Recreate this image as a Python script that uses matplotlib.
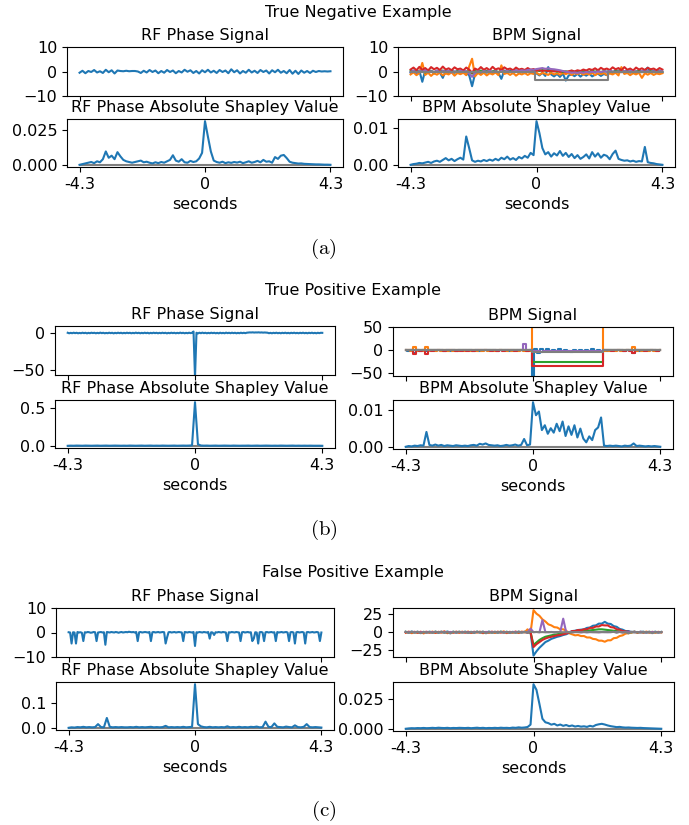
import matplotlib.pyplot as plt
import numpy as np

# Schriftgrössen wie im Original (Abbildung ist leicht skaliert)
plt.rcParams['font.size'] = 11.5
plt.rcParams['axes.titlesize'] = 11.5
plt.rcParams['mathtext.fontset'] = 'cm'

# ---------------------------------------------------------------
# Daten: die meisten Reihen haben 87 Werte, Zeitraster -4.3 .. 4.3 s (0.1 s)
# eine Zeile = 1 s, Index 43 = 0 s
# RF-Signale (b) und (c) mit 173 Werten (0.05 s), eine Zeile = 0.5 s
# ---------------------------------------------------------------
tick_pos = [-4.3, 0, 4.3]
tick_lab = ['-4.3', '0', '4.3']

# ---------- (a) True Negative ----------
rf_sig_a = [-0.5, 0.3, -0.7, 0.2, -0.2, 0.6, -0.4, 0.1, -0.6, 0.7,
            -0.3, 0.5, -0.8, 0.4, 0.2, 0.1, 0.3, 0.1, 0.2, 0.2,
            0.0, -0.6, 0.3, -0.4, 0.6, -0.2, 0.4, -0.7, 0.2, -0.5,
            0.6, -0.2, 0.4, -0.7, 0.2, -0.4, 0.7, -0.1, 0.5, -0.6,
            0.2, -0.8, 0.5, -0.3, 0.7, -0.4, 0.3, -0.6, 0.6, -0.2,
            0.4, -0.7, 0.9, -0.3, 0.5, -0.8, 0.2, -0.5, 0.7, -0.4,
            0.3, -0.6, 0.6, -0.2, 0.4, -0.8, 0.5, -0.3, 0.7, -0.5,
            0.2, -0.7, 0.6, -0.9, 0.3, -1.0, 0.4, -0.5, 0.2, -0.6,
            0.3, -0.2, 0.2, 0.0, 0.1, 0.0, 0.1]

rf_shap_a = [0.0, 0.0005, 0.001, 0.0015, 0.002, 0.0012, 0.0025, 0.0018, 0.004, 0.0095,
             0.005, 0.0065, 0.004, 0.009, 0.006, 0.0035, 0.0025, 0.002, 0.0015, 0.002,
             0.0025, 0.003, 0.0018, 0.0022, 0.0015, 0.001, 0.0018, 0.0012, 0.002, 0.0015,
             0.0025, 0.0035, 0.0068, 0.003, 0.0022, 0.004, 0.0018, 0.0015, 0.0028, 0.002,
             0.0025, 0.0045, 0.0085, 0.031, 0.02, 0.0095, 0.003, 0.002, 0.0015, 0.0022,
             0.0012, 0.0018, 0.0014, 0.002, 0.0016, 0.0022, 0.0012, 0.0018, 0.0025, 0.0015,
             0.002, 0.0028, 0.0018, 0.0035, 0.0022, 0.0025, 0.0015, 0.0055, 0.0042, 0.0065,
             0.007, 0.0048, 0.0022, 0.0015, 0.0012, 0.0009, 0.001, 0.0007, 0.0006, 0.0005,
             0.0004, 0.0003, 0.0003, 0.0002, 0.0001, 0.0001, 0.0]

bpm_blue_a = [-0.5, 0.4, -0.8, 0.3, -4.2, 0.5, -0.6, 0.2, -0.9, 0.4,
              -0.4, -2.6, 0.3, -0.7, 0.5, -0.5, 0.2, -0.8, 0.4, -0.6,
              -1.5, -6.0, -1.0, 0.3, -0.7, 0.4, -0.5, 0.2, -0.8, 0.3,
              -0.6, -3.0, 0.4, -0.5, 0.3, -0.8, 0.5, -0.4, 0.2, -0.7,
              0.3, -0.6, 0.5, -0.8, -1.6, -0.5, -1.8, 1.8, -1.2, -2.0,
              -1.0, -2.2, -0.8, -3.7, -1.6, -1.2, -1.9, -0.9, -2.1, -1.1,
              -1.7, -0.8, -2.0, -1.3, -0.9, -1.8, -1.0, -1.5, 0.4, -0.6,
              0.5, -0.4, 0.3, -0.7, 0.6, -0.5, 0.2, -0.8, 0.4, -0.3,
              0.5, 1.6, -0.6, 0.3, -0.5, 0.4, -0.4]
bpm_orange_a = [-1.2, -0.3, -1.5, -0.6, 3.5, -1.4, -0.5, -1.8, -0.7, -1.3,
                -0.4, -1.6, -0.8, -1.2, -0.3, -1.7, -0.6, -1.1, -0.5, -1.5,
                2.0, 5.2, -2.0, -0.6, -1.4, -0.5, -1.6, -0.7, -1.2, -0.4,
                -1.5, 2.5, -1.0, -0.6, -1.4, -0.5, -1.7, -0.8, -1.2, -0.6,
                -1.4, -0.7, -1.0, -0.5, -1.3, -0.6, -0.9, -1.4, -0.5, -1.2,
                -0.7, -1.3, -0.6, -1.1, -0.5, -1.4, -0.7, -1.0, -0.6, -1.3,
                -0.8, -1.2, -0.5, -1.5, -0.7, -1.1, -0.6, -1.4, -0.8, -1.2,
                -0.5, -1.6, 1.8, -1.0, -0.6, -1.5, -0.7, -1.2, -0.5, -2.6,
                -0.7, -1.3, -0.6, -1.4, -0.8, -1.1, -0.7]
bpm_green_a = [0.3, -0.2, 0.4, -0.1, 0.2, -0.4, 0.1, 0.3, -0.3, 0.2,
               -0.1, 0.4, -0.2, 0.1, 0.3, -0.3, 0.2, -0.1, 0.4, -0.2,
               0.1, -0.9, 0.2, -0.3, 0.4, -0.1, 0.3, -0.2, 0.1, 0.3,
               -0.3, 0.2, -0.1, 0.4, -0.2, 0.3, -0.1, 0.2, -0.3, 0.4,
               0.1, -0.2, 0.3, 0.5, 0.2, 0.6, 0.3, 0.4, 0.1, 0.3,
               -0.1, 0.2, -0.3, 0.1, -0.2, 0.3, -0.1, 0.2, -0.3, 0.1,
               0.2, -0.2, 0.4, -0.1, 0.3, -0.3, 0.2, -0.1, 0.3, -0.2,
               0.1, 0.4, -0.2, 0.2, -0.1, 0.3, -0.3, 0.1, 0.2, -0.2,
               0.3, -0.1, 0.2, -0.3, 0.1, 0.2, -0.1]
bpm_red_a = [0.8, 1.6, 0.5, 1.9, 0.7, 1.4, 0.4, 1.8, 0.9, 1.5,
             0.6, 2.0, 0.8, 1.3, 0.5, 1.7, 0.9, 1.2, 0.4, 1.6,
             0.8, -0.5, 1.2, 0.6, 1.8, 0.7, 1.4, 0.5, 1.9, 0.8,
             1.3, 0.6, 1.7, 0.9, 1.2, 0.5, 1.6, 0.8, 1.1, 0.6,
             1.4, 0.7, 1.0, 0.3, 0.6, 0.2, 0.5, 0.1, 0.4, 0.0,
             0.3, -0.2, 0.2, -0.3, 0.1, 0.4, 0.0, 0.5, 0.2, 0.8,
             0.4, 1.0, 0.6, 1.3, 0.5, 1.5, 0.8, 1.2, 0.6, 1.7,
             0.9, 1.4, 0.5, 1.8, 0.7, 1.2, 0.4, 1.6, 0.8, 1.3,
             0.6, 1.5, 0.9, 1.2, 0.5, 1.4, 0.8]
bpm_purple_a = [-0.2, 0.3, -0.4, 0.2, -0.1, 0.4, -0.3, 0.1, -0.2, 0.3,
                -0.3, 0.2, -0.1, 0.3, -0.4, 0.1, -0.2, 0.3, -0.1, 0.2,
                -0.8, -2.2, -0.6, 0.1, -0.3, 0.2, -0.1, 0.3, -0.2, 0.1,
                -0.3, 0.2, -0.1, 0.3, -0.2, 0.1, 0.4, 0.2, 0.5, 0.3,
                0.6, 0.8, 0.7, 1.0, 1.2, 1.4, 1.1, 1.3, 1.0, 0.9,
                0.7, 0.5, 0.2, -0.1, -0.3, -0.5, -0.4, -0.6, -0.3, -0.5,
                -0.2, -0.4, -0.1, -0.3, 0.0, -0.2, 0.1, -0.1, 0.2, 0.0,
                -0.2, 0.1, -0.3, 0.2, -0.1, 0.3, -0.2, 0.1, -0.3, 0.2,
                -0.1, 0.2, -0.2, 0.1, -0.3, 0.2, 0.0]
bpm_gray_a = [0.0] * 43 + [-3.6] * 25 + [0.0] * 19

bpm_shap_a = [0.0, 0.0002, 0.0003, 0.0005, 0.0004, 0.0006, 0.0008, 0.0005, 0.0009, 0.0011,
              0.0008, 0.0013, 0.0018, 0.0012, 0.0016, 0.001, 0.0015, 0.0019, 0.0014, 0.0076,
              0.0045, 0.0012, 0.0008, 0.0011, 0.0009, 0.0013, 0.001, 0.0014, 0.0011, 0.0016,
              0.0012, 0.0019, 0.0015, 0.0022, 0.0014, 0.0018, 0.0013, 0.0021, 0.0017, 0.0024,
              0.0019, 0.0032, 0.0026, 0.0117, 0.0085, 0.0045, 0.0028, 0.0034, 0.0022, 0.0031,
              0.0025, 0.0037, 0.0024, 0.0032, 0.0021, 0.0029, 0.0018, 0.0026, 0.0016, 0.0021,
              0.0028, 0.0017, 0.0034, 0.0022, 0.0031, 0.0019, 0.0027, 0.0024, 0.0015, 0.0029,
              0.0038, 0.0016, 0.0013, 0.0011, 0.0012, 0.0009, 0.0011, 0.0008, 0.001, 0.0009,
              0.0048, 0.0007, 0.0005, 0.0004, 0.0002, 0.0001, 0.0]

# ---------- (b) True Positive ----------
# 173 Werte, eine Zeile = 0.5 s, Index 86 = 0 s
rf_sig_b = [0.3, -0.4, 0.2, -0.3, 0.4, -0.2, 0.3, -0.4, 0.1, -0.3,
            0.4, -0.2, 0.3, -0.5, 0.2, -0.3, 0.4, -0.1, 0.3, -0.4,
            0.2, -0.3, 0.5, -0.2, 0.3, -0.4, 0.1, -0.3, 0.4, -0.2,
            0.3, -0.5, 0.2, -0.3, 0.4, -0.2, 0.3, -0.4, 0.2, -0.3,
            0.4, -0.2, 0.3, -0.4, 0.2, -0.3, 0.5, -0.2, 0.3, -0.4,
            0.2, -0.3, 0.4, -0.2, 0.3, -0.5, 0.2, -0.3, 0.4, -0.2,
            0.3, -0.4, 0.2, -0.3, 0.4, -0.2, 0.3, -0.5, 0.2, -0.3,
            0.4, -0.2, 0.3, -0.4, 0.2, -0.3, 0.5, -0.2, 0.3, -0.4,
            0.2, -0.3, 0.4, -0.2, 0.3, 2.0, -60.0, 0.3, -0.6, 0.4,
            -0.3, 0.5, -0.2, 0.3, -0.4, 0.2, -0.3, 0.4, -0.2, 0.3,
            -0.4, 0.2, -0.5, 0.4, -0.3, 0.2, -0.4, 0.5, -0.2, 0.3,
            -0.3, 0.4, -0.2, 0.3, -0.4, 0.2, -0.3, 0.4, -0.2, 0.3,
            -0.2, 0.4, 0.6, 0.8, 0.7, 0.9, 0.6, 0.8, 0.7, 0.9,
            0.6, 0.8, 0.5, 0.7, 0.6, 0.4, -0.3, 0.2, -0.4, 0.3,
            -0.2, 0.4, -0.3, 0.2, -0.4, 0.3, -0.2, 0.4, -0.3, 0.2,
            -0.4, 0.3, -0.2, 0.4, -0.3, 0.2, -0.4, 0.3, -0.2, 0.4,
            -0.3, 0.2, -0.4, 0.3, -0.2, 0.4, -0.3, 0.2, -0.4, 0.3,
            -0.2, 0.3, 0.2]

rf_shap_b = [0.0, 0.002, 0.001, 0.003, 0.002, 0.001, 0.003, 0.002, 0.001, 0.002,
             0.003, 0.001, 0.002, 0.003, 0.001, 0.002, 0.003, 0.002, 0.001, 0.002,
             0.001, 0.003, 0.002, 0.001, 0.002, 0.003, 0.001, 0.002, 0.003, 0.001,
             0.002, 0.001, 0.003, 0.002, 0.001, 0.002, 0.003, 0.001, 0.002, 0.003,
             0.002, 0.003, 0.006, 0.58, 0.02, 0.004, 0.002, 0.003, 0.001, 0.002,
             0.003, 0.001, 0.002, 0.003, 0.002, 0.001, 0.003, 0.002, 0.001, 0.002,
             0.002, 0.003, 0.001, 0.002, 0.003, 0.001, 0.002, 0.003, 0.002, 0.001,
             0.002, 0.001, 0.003, 0.002, 0.001, 0.002, 0.003, 0.001, 0.002, 0.001,
             0.002, 0.001, 0.002, 0.001, 0.001, 0.001, 0.0]

bpm_blue_b = [0.5, -0.8, 0.6, -7.0, 0.4, -0.6, 0.7, -1.0, 0.5, -0.4,
              0.6, -0.5, 0.8, -0.7, 0.4, -0.6, 0.5, -0.8, 0.3, -0.5,
              0.6, -0.4, 0.7, -0.6, 0.5, -0.8, 0.4, -0.5, 0.6, -0.3,
              0.5, -0.7, 0.4, -0.5, 0.8, -0.6, 0.3, -0.4, 0.6, -0.5,
              0.4, -0.6, 0.5, -60.0, 3.0, -5.0, 2.0, -1.5, 2.5, -1.0,
              1.5, -2.0, 2.0, -1.0, 1.0, -1.5, -3.0, 1.5, -1.2, 0.8,
              -1.8, 1.2, -0.9, 1.6, -1.4, 0.9, -1.1, 0.5, -0.6, 0.4,
              -0.5, 0.7, -0.4, 0.6, -0.8, 0.5, -0.3, -6.0, 0.4, -0.6,
              0.5, -0.4, 0.6, -0.5, 0.3, -0.6, 0.4]
bpm_orange_b = ([-0.5, 1.0, -1.2, 7.0, -0.8, 0.9, -1.0, 8.0, -0.7, 1.1,
                 -0.9, 0.8, -1.3, 0.6, -0.7, 1.2, -1.0, 0.5, -0.8, 0.9,
                 -1.1, 0.7, -0.6, 1.0, -1.2, 0.5, -0.9, 1.3, -0.7, 0.6,
                 -1.0, 0.8, -0.5, 1.1, -1.3, 0.6, -0.8, 0.9, -1.1, 0.7,
                 -0.6, 1.0, -0.9]
                + [50.0] * 24
                + [-0.8, 1.0, -0.6,
                   0.9, -1.1, 0.7, -0.9, 1.0, -0.5, 0.8, 7.0, -0.9, 0.6,
                   -0.7, 1.0, -0.8, 0.6, -1.0, 0.7, -0.5])
bpm_green_b = ([0.3, -0.4, 0.2, -0.5, 0.4, -0.3, 0.5, -0.2, 0.3, -0.4,
                0.2, -0.3, 0.4, -0.2, 0.3, -0.5, 0.2, -0.3, 0.4, -0.2,
                0.3, -0.4, 0.2, -0.3, 0.5, -0.2, 0.3, -0.4, 0.2, -0.3,
                0.4, -0.2, 0.3, -0.5, 0.2, -0.3, 0.4, -0.2, 0.3, -0.4,
                0.2, -0.3, 0.4]
               + [-25.0] * 24
               + [0.3, -0.4, 0.2,
                  -0.3, 0.4, -0.2, 0.3, -0.5, 0.2, -0.3, 0.4, -0.2, 0.3,
                  -0.4, 0.2, -0.3, 0.4, -0.2, 0.3, -0.1])
bpm_red_b = ([0.8, -0.5, 1.0, -8.0, 0.6, -0.7, 0.9, -9.0, 0.5, -0.6,
              0.7, -0.4, 0.9, -0.8, 0.6, -0.5, 1.0, -0.7, 0.4, -0.6,
              0.8, -0.6, 0.5, -0.9, 0.7, -0.4, 1.1, -0.5, 0.6, -0.8,
              0.9, -0.6, 0.4, -0.7, 1.0, -0.5, 0.6, -0.8, 0.7, -0.4,
              0.6, -0.7, 0.8]
             + [-34.0] * 24
             + [0.6, -0.5, 0.8,
                -0.6, 0.7, -0.4, 0.9, -0.7, 0.5, -0.6, -7.0, 0.8, -0.5,
                0.6, -0.8, 0.5, -0.4, 0.7, -0.6, 0.5])
bpm_purple_b = [-0.3, 0.4, -0.2, 0.5, -0.4, 0.3, -0.2, 0.6, -0.3, 0.2,
                0.4, -0.3, 0.2, -0.4, 0.5, -0.2, 0.3, -0.5, 0.2, -0.3,
                0.3, -0.2, 0.5, -0.3, 0.2, -0.4, 0.3, -0.2, 0.4, -0.3,
                0.2, -0.4, 0.3, -0.2, 0.5, -0.3, 0.2, -0.4, 0.3, -0.2,
                14.0, -0.3, 0.4, -1.5, -2.5, -1.0, -2.8, -1.2, -2.2, -0.8,
                -2.4, -1.1, -2.6, -0.9, -2.0, -1.4, -2.7, -1.0, -2.3, -1.3,
                -2.5, -0.9, -2.1, -1.2, -2.6, -1.0, -1.8, 0.3, -0.2, 0.4,
                -0.3, 0.2, -0.4, 0.3, -0.2, 0.5, -0.3, 0.2, -0.4, 0.3,
                -0.2, 0.4, -0.3, 0.2, -0.4, 0.3, -0.1]
bpm_gray_b = [0.0] * 43 + [-3.0] * 24 + [0.0] * 20

bpm_shap_b = [0.0, 0.0002, 0.0001, 0.0003, 0.0002, 0.0004, 0.0003, 0.004, 0.0005, 0.0003,
              0.0006, 0.0003, 0.0005, 0.0002, 0.0004, 0.0003, 0.0002, 0.0004, 0.0003, 0.0002,
              0.0003, 0.0002, 0.0004, 0.0005, 0.0003, 0.0008, 0.0006, 0.0009, 0.0005, 0.0004,
              0.0003, 0.0004, 0.0002, 0.0003, 0.0005, 0.0003, 0.0004, 0.0006, 0.0003, 0.0005,
              0.0021, 0.0004, 0.0006, 0.012, 0.0085, 0.0095, 0.0045, 0.0058, 0.0035, 0.005,
              0.0038, 0.0062, 0.0042, 0.0068, 0.0029, 0.0055, 0.0032, 0.0058, 0.0025, 0.0049,
              0.0022, 0.0012, 0.0028, 0.0018, 0.0045, 0.0052, 0.0079, 0.0003, 0.0002, 0.0003,
              0.0002, 0.0003, 0.0002, 0.0001, 0.0003, 0.0002, 0.0003, 0.0009, 0.0002, 0.0003,
              0.0002, 0.0001, 0.0002, 0.0001, 0.0002, 0.0001, 0.0]

# ---------- (c) False Positive ----------
# 173 Werte, eine Zeile = 0.5 s, Index 86 = 0 s
rf_sig_c = [0.1, 0.0, -4.5, 0.1, 0.0, -4.5, 0.2, 0.0, 0.1, -0.1,
            -3.5, 0.1, 0.0, 0.2, 0.1, -0.1, 0.0, 0.2, 0.1, -3.5,
            0.0, 0.1, 0.2, 0.0, 0.1, -5.0, 0.2, 0.1, 0.0, 0.2,
            0.1, 0.0, 0.2, 0.1, -0.1, 0.1, 0.2, 0.0, 0.1, 0.2,
            0.1, 0.3, 0.2, 0.1, 0.2, 0.0, 0.2, -3.5, 0.1, 0.2,
            0.0, 0.1, 0.2, 0.1, 0.0, 0.2, -3.5, 0.1, 0.2, 0.0,
            0.1, 0.2, 0.0, 0.1, 0.2, 0.1, -4.5, -2.0, 0.1, 0.2,
            0.0, 0.1, 0.2, 0.0, 0.1, 0.2, 0.1, 0.0, -3.5, 0.2,
            0.1, 0.0, 0.2, 0.1, 0.0, 0.2, -5.5, 0.1, 0.0, 0.2,
            0.1, 0.0, 0.2, 0.1, 0.0, 0.2, -2.5, 0.1, 0.0, -1.0,
            0.1, 0.0, 0.2, 0.1, 0.0, 0.2, 0.1, 0.0, -3.5, 0.1,
            0.0, 0.2, 0.1, 0.0, 0.2, 0.1, 0.0, -3.5, 0.1, 0.2,
            0.0, 0.1, 0.2, 0.0, 0.1, -3.5, -2.5, 0.1, 0.0, -4.5,
            0.1, 0.2, 0.0, -3.5, 0.1, 0.2, 0.0, 0.1, 0.2, 0.0,
            0.1, -3.5, 0.2, 0.0, 0.1, 0.2, 0.0, 0.1, 0.2, 0.0,
            -3.5, 0.1, 0.2, 0.0, -4.5, 0.1, 0.2, 0.0, 0.1, 0.2,
            0.0, -4.5, 0.1, 0.2, 0.0, 0.1, 0.2, 0.0, 0.1, 0.2,
            0.0, -3.5, 0.0]

rf_shap_c = [0.0, 0.002, 0.001, 0.003, 0.002, 0.004, 0.002, 0.003, 0.002, 0.003,
             0.015, 0.003, 0.002, 0.04, 0.004, 0.002, 0.003, 0.002, 0.003, 0.002,
             0.002, 0.003, 0.002, 0.004, 0.002, 0.003, 0.002, 0.003, 0.004, 0.002,
             0.003, 0.002, 0.003, 0.008, 0.002, 0.003, 0.002, 0.003, 0.002, 0.004,
             0.002, 0.003, 0.004, 0.177, 0.015, 0.006, 0.003, 0.002, 0.004, 0.002,
             0.003, 0.002, 0.003, 0.002, 0.006, 0.002, 0.003, 0.002, 0.004, 0.002,
             0.003, 0.002, 0.004, 0.003, 0.005, 0.002, 0.003, 0.025, 0.004, 0.003,
             0.018, 0.004, 0.003, 0.002, 0.005, 0.003, 0.002, 0.01, 0.003, 0.002,
             0.004, 0.015, 0.003, 0.002, 0.003, 0.002, 0.001]

bpm_blue_c = [0.4, -0.6, 0.8, -0.3, 0.5, -0.9, 0.3, -0.5, 0.7, -0.4,
              0.6, -0.8, 0.3, -0.5, 0.9, -0.4, 0.5, -0.7, 0.4, -0.3,
              0.7, -0.5, 0.4, -0.9, 0.6, -0.3, 0.5, -0.6, 0.8, -0.4,
              0.3, -0.7, 0.6, -0.4, 0.5, -0.8, 0.4, -0.5, 0.7, -0.3,
              0.5, -0.6, 0.4, -33.0, -27.0, -22.0, -18.0, -14.0, -12.0, -9.5,
              -8.0, -6.5, -5.5, -4.0, -3.0, -1.0, 1.5, 2.0, 3.0, 3.5,
              4.0, 6.0, 6.5, 9.0, 9.5, 12.0, 12.0, 14.5, 12.0, 11.5,
              8.5, 7.5, 4.5, 3.5, 1.5, 1.5, 0.0, 0.8, -0.5, 0.6,
              0.5, -0.6, 0.4, -0.3, 0.6, -0.5, 0.3]
bpm_orange_c = [-0.8, 0.5, -1.5, 0.3, -0.9, 0.6, -1.8, 0.2, -0.7, 0.8,
                -1.2, 0.4, -0.6, 1.0, -1.5, 0.3, -0.8, 0.5, -1.1, 0.6,
                -0.7, 0.9, -1.3, 0.4, -0.5, 0.7, -1.6, 0.3, -0.9, 0.5,
                -1.0, 0.6, -0.7, 1.1, -1.4, 0.4, -0.8, 0.6, -1.2, 0.8,
                -0.5, 4.0, -1.0, 31.0, 26.0, 23.0, 18.0, 15.0, 11.0, 9.5,
                7.0, 6.5, 4.0, 4.0, 2.0, -1.5, -3.0, -4.5, -4.0, -5.5,
                -5.5, -7.5, -7.5, -9.5, -10.0, -12.0, -12.0, -13.5, -11.5, -11.5,
                -8.5, -8.0, -5.5, -4.5, -2.0, -1.5, -0.5, 0.6, -0.8, 0.4,
                -0.6, 0.8, -0.5, 0.3, -0.7, 0.5, -0.3]
bpm_green_c = [0.3, -0.2, 0.4, -0.3, 0.2, -0.4, 0.3, -0.1, 0.2, -0.3,
               0.4, -0.2, 0.3, -0.4, 0.1, -0.3, 0.4, -0.2, 0.3, -0.1,
               0.2, -0.4, 0.3, -0.2, 0.4, -0.3, 0.1, -0.2, 0.3, -0.4,
               0.2, -0.3, 0.4, -0.1, 0.3, -0.4, 0.2, -0.3, 0.1, -0.2,
               0.3, -0.2, 0.1, -18.0, -14.5, -11.0, -8.5, -6.5, -5.5, -4.5,
               -3.5, -3.0, -2.0, -1.5, -1.0, -0.5, 0.2, 0.5, 0.8, 1.0,
               1.5, 2.0, 2.5, 3.0, 3.5, 4.0, 4.0, 3.5, 3.0, 2.5,
               2.0, 1.5, 1.0, 0.5, 0.2, 0.0, -0.2, 0.3, -0.1, 0.2,
               -0.3, 0.1, -0.2, 0.3, -0.1, 0.2, 0.0]
bpm_red_c = [-0.4, 0.6, -0.3, 0.5, -0.7, 0.4, -0.2, 0.6, -0.5, 0.3,
             -0.6, 0.4, -0.3, 0.7, -0.4, 0.2, -0.5, 0.6, -0.3, 0.4,
             -0.5, 0.3, -0.6, 0.5, -0.2, 0.4, -0.7, 0.3, -0.4, 0.6,
             -0.3, 0.5, -0.4, 0.2, -0.6, 0.4, -0.3, 0.7, -0.5, 0.3,
             0.3, -0.4, 0.2, -21.0, -17.0, -14.0, -11.0, -9.0, -7.5, -6.5,
             -5.5, -4.5, -4.0, -3.0, -2.0, -0.5, 1.5, 1.5, 3.0, 2.5,
             4.0, 4.0, 6.0, 6.0, 8.0, 8.0, 10.0, 9.5, 9.5, 7.0,
             6.5, 4.0, 3.5, 1.5, 1.0, 0.5, 0.0, 0.3, -0.2, 0.3,
             -0.3, 0.2, -0.2, 0.3, -0.1, 0.2, 0.0]
bpm_purple_c = [0.2, -0.3, 0.4, -0.2, 0.3, -0.4, 0.1, -0.3, 0.2, -0.1,
                0.3, -0.2, 0.4, -0.3, 0.2, -0.1, 0.3, -0.4, 0.2, -0.2,
                0.1, -0.3, 0.2, -0.2, 0.4, -0.3, 0.2, -0.1, 0.3, -0.2,
                0.4, -0.2, 0.1, -0.3, 0.2, -0.4, 0.3, -0.1, 0.2, -0.3,
                0.1, -0.2, 5.0, 0.0, 0.3, -0.2, 17.0, 0.2, -0.1, 0.3,
                -0.2, 0.1, 0.2, 19.0, -0.1, 0.3, -0.2, 0.1, 0.2, -0.3,
                0.1, -0.2, 0.3, -0.1, 0.2, -0.3, 0.1, 0.2, -0.2, 0.1,
                0.3, -0.1, 0.2, -0.3, 0.1, -0.2, 0.3, -0.1, 0.2, -0.2,
                0.1, -0.3, 0.2, -0.1, 0.3, -0.2, 0.0]
bpm_gray_c = [0.5, -0.8, 0.3, -0.5, 0.7, -1.5, 0.4, -0.6, 0.2, -0.9,
              0.6, -0.4, 0.8, -0.7, 0.3, -1.8, 0.5, -0.3, 0.7, -0.6,
              0.4, -0.9, 0.2, -0.5, 0.6, -0.4, 0.8, -1.6, 0.3, -0.7,
              0.5, -0.3, 0.6, -0.8, 0.4, -0.5, 0.2, -0.9, 0.7, -0.4,
              0.3, -0.6, 0.5, 0.0, 0.2, -0.1, 0.1, -0.2, 0.1, 0.0,
              -0.1, 0.2, 0.0, -0.1, 0.1, 0.0, -0.2, 0.1, 0.0, -0.1,
              0.2, -0.1, 0.0, 0.1, -0.2, 0.0, 0.1, -0.1, 0.2, 0.0,
              0.5, -0.8, 0.4, -0.6, 0.3, -1.7, 0.6, -0.4, 0.2, -0.7,
              0.5, -0.3, 0.7, -1.5, 0.4, -0.6, 0.3]

bpm_shap_c = [0.0, 0.0003, 0.0005, 0.0004, 0.0006, 0.0005, 0.0007, 0.0005, 0.0006, 0.0008,
              0.0006, 0.0009, 0.0007, 0.0006, 0.0008, 0.0005, 0.0007, 0.0006, 0.0008, 0.0007,
              0.0006, 0.0008, 0.0005, 0.0007, 0.0009, 0.0006, 0.0008, 0.0005, 0.0007, 0.0006,
              0.0008, 0.0006, 0.0009, 0.0007, 0.0008, 0.0006, 0.001, 0.0008, 0.0012, 0.0009,
              0.0011, 0.0015, 0.0035, 0.0378, 0.033, 0.021, 0.0085, 0.0055, 0.0048, 0.0035,
              0.0042, 0.0028, 0.0036, 0.0025, 0.0032, 0.0022, 0.0028, 0.0019, 0.0024, 0.0018,
              0.0021, 0.0016, 0.0025, 0.0019, 0.0032, 0.0038, 0.0042, 0.0036, 0.0028, 0.0022,
              0.0018, 0.0014, 0.0016, 0.0012, 0.001, 0.0011, 0.0009, 0.0008, 0.0007, 0.0008,
              0.0006, 0.0005, 0.0004, 0.0003, 0.0002, 0.0001, 0.0]

# Shapley-Werte der übrigen Kanäle (überall null)
other_shap = [0.0, 0.0]

bpm_colors = ['#1f77b4', '#ff7f0e', '#2ca02c', '#d62728', '#9467bd', '#7f7f7f']
blue = '#1f77b4'


def zeit(werte):
    # Zeitachse passend zur Länge der Reihe
    return np.linspace(-4.3, 4.3, len(werte))


fig = plt.figure(figsize=(6.89, 8.25), dpi=100)


def achse(x0, x1, y0, y1):
    # Position in Pixeln des 689x825 Bildes
    return fig.add_axes([x0 / 689, 1 - y1 / 825, (x1 - x0) / 689, (y1 - y0) / 825])


def panel(titel, tx, ty, boxen, rf_sig, rf_shap, bpm, bpm_shap,
          rf_lim, rf_ticks, bpm_lim, bpm_ticks, rf_shap_ticks, bpm_shap_ticks,
          bpm_stil):
    fig.text(tx / 689, 1 - ty / 825, titel, ha='center', va='center')
    (l0, l1, l2, l3), (r0, r1, r2, r3) = boxen

    ax1 = achse(l0, l1, l2[0], l2[1])
    ax1.plot(zeit(rf_sig), rf_sig, color=blue, lw=1.5)
    ax1.set_title('RF Phase Signal', pad=5)
    ax1.set_ylim(rf_lim)
    ax1.set_yticks(rf_ticks)

    ax2 = achse(l0, l1, l3[0], l3[1])
    ax2.plot(zeit(other_shap), other_shap, color='#7f7f7f', lw=1.5)
    ax2.plot(zeit(rf_shap), rf_shap, color=blue, lw=1.5)
    ax2.set_title('RF Phase Absolute Shapley Value', pad=5)
    ax2.set_yticks(rf_shap_ticks)

    ax3 = achse(r0, r1, r2[0], r2[1])
    for serie, farbe, stil in zip(bpm, bpm_colors, bpm_stil):
        ax3.plot(zeit(serie), serie, color=farbe, lw=1.5, drawstyle=stil)
    ax3.set_title('BPM Signal', pad=5)
    ax3.set_ylim(bpm_lim)
    ax3.set_yticks(bpm_ticks)

    ax4 = achse(r0, r1, r3[0], r3[1])
    ax4.plot(zeit(other_shap), other_shap, color='#7f7f7f', lw=1.5)
    ax4.plot(zeit(bpm_shap), bpm_shap, color=blue, lw=1.5)
    ax4.set_title('BPM Absolute Shapley Value', pad=5)
    ax4.set_yticks(bpm_shap_ticks)

    for ax in (ax1, ax3):
        ax.set_xlim(-4.73, 4.73)
        ax.set_xticks(tick_pos)
        ax.tick_params(labelbottom=False)
    for ax in (ax2, ax4):
        ax.set_xlim(-4.73, 4.73)
        ax.set_xticks(tick_pos, tick_lab)
        ax.set_xlabel('seconds')


glatt = 'default'
stufe = 'steps-mid'

# (a)
panel('True Negative Example', 358, 12.5,
      ((67, 343, (47, 96), (119, 167)), (398, 675, (47, 96), (119, 167))),
      rf_sig_a, rf_shap_a,
      [bpm_blue_a, bpm_orange_a, bpm_green_a, bpm_red_a, bpm_purple_a, bpm_gray_a],
      bpm_shap_a,
      (-10, 10), [-10, 0, 10], (-10, 10), [-10, 0, 10], [0, 0.025], [0, 0.01],
      [glatt] * 5 + [stufe])

# (b)
panel('True Positive Example', 353, 291,
      ((55, 335, (326, 375), (400, 448)), (393, 673, (327, 376), (400, 449))),
      rf_sig_b, rf_shap_b,
      [bpm_blue_b, bpm_orange_b, bpm_green_b, bpm_red_b, bpm_purple_b, bpm_gray_b],
      bpm_shap_b,
      (-57, 9.5), [-50, 0], (-56, 50.5), [-50, 0, 50], [0, 0.5], [0, 0.01],
      [stufe] * 6)

# (c)
panel('False Positive Example', 352.5, 572.5,
      ((56, 334, (608, 657), (682, 730)), (393, 674, (608, 657), (682, 731))),
      rf_sig_c, rf_shap_c,
      [bpm_blue_c, bpm_orange_c, bpm_green_c, bpm_red_c, bpm_purple_c, bpm_gray_c],
      bpm_shap_c,
      (-10, 10), [-10, 0, 10], (-35, 34), [-25, 0, 25], [0, 0.1], [0, 0.025],
      [glatt] * 6)

# Unterschriften (a), (b), (c)
for buchstabe, y in (('a', 248.8), ('b', 529.5), ('c', 810.8)):
    fig.text(323.7 / 689, 1 - y / 825, r'$\mathrm{(' + buchstabe + ')}$',
             fontsize=15, ha='center', va='center')

plt.savefig('out.png', dpi=100)
